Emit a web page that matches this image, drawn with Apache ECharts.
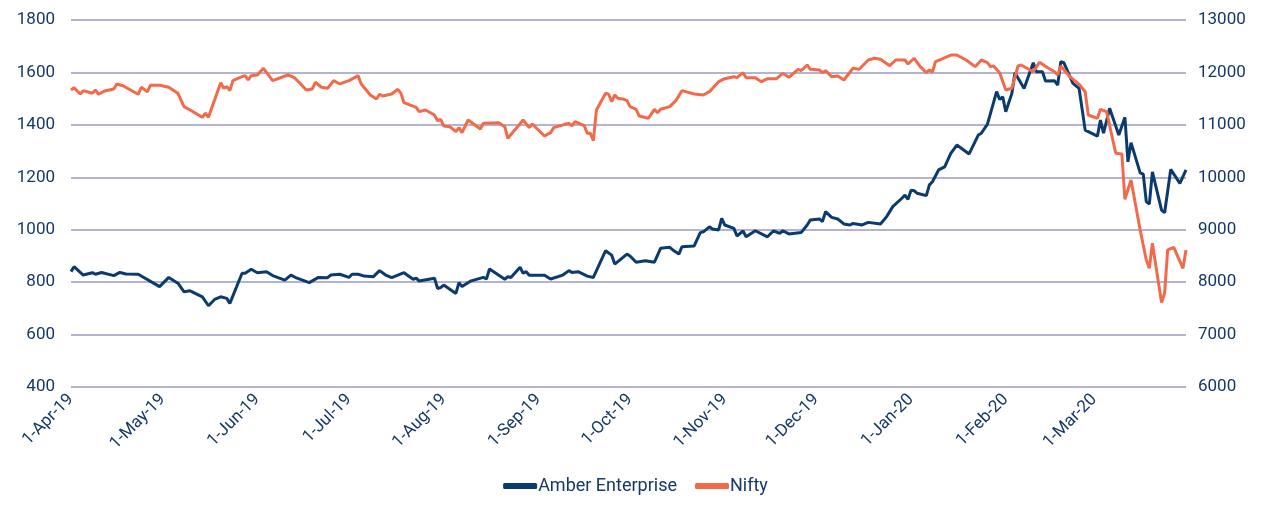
<!DOCTYPE html>
<html>
<head>
<meta charset="utf-8">
<script src="https://cdn.jsdelivr.net/npm/echarts@6/dist/echarts.min.js"></script>
<style>
  html, body { margin: 0; padding: 0; background: #fff; }
  #chart { width: 1271px; height: 505px; }
</style>
</head>
<body>
<div id="chart"></div>
<script>
// ===== Amber Enterprise vs Nifty, Apr-19 .. Mar-20 =====

const amberDates = [
  '2019-04-01','2019-04-02','2019-04-05','2019-04-08','2019-04-09','2019-04-11','2019-04-15','2019-04-17','2019-04-19','2019-04-23',
  '2019-04-30','2019-05-03','2019-05-06','2019-05-08','2019-05-10','2019-05-14','2019-05-16','2019-05-18','2019-05-20','2019-05-22',
  '2019-05-23','2019-05-27','2019-05-28','2019-05-30','2019-06-01','2019-06-04','2019-06-06','2019-06-10','2019-06-12','2019-06-14',
  '2019-06-18','2019-06-21','2019-06-24','2019-06-25','2019-06-28','2019-07-01','2019-07-02','2019-07-04','2019-07-06','2019-07-09',
  '2019-07-11','2019-07-13','2019-07-15','2019-07-19','2019-07-22','2019-07-23','2019-07-24','2019-07-29','2019-07-30','2019-07-31',
  '2019-08-01','2019-08-05','2019-08-06','2019-08-07','2019-08-10','2019-08-14','2019-08-15','2019-08-16','2019-08-21','2019-08-22',
  '2019-08-23','2019-08-26','2019-08-27','2019-08-28','2019-08-29','2019-09-03','2019-09-05','2019-09-09','2019-09-11','2019-09-12',
  '2019-09-14','2019-09-17','2019-09-19','2019-09-23','2019-09-25','2019-09-26','2019-09-30','2019-10-01','2019-10-03','2019-10-06',
  '2019-10-09','2019-10-11','2019-10-14','2019-10-15','2019-10-17','2019-10-18','2019-10-22','2019-10-24','2019-10-25','2019-10-27',
  '2019-10-28','2019-10-30','2019-10-31','2019-11-01','2019-11-04','2019-11-05','2019-11-07','2019-11-08','2019-11-11','2019-11-15',
  '2019-11-17','2019-11-19','2019-11-20','2019-11-22','2019-11-26','2019-11-28','2019-11-29','2019-12-02','2019-12-03','2019-12-04',
  '2019-12-06','2019-12-08','2019-12-10','2019-12-12','2019-12-13','2019-12-16','2019-12-18','2019-12-22','2019-12-24','2019-12-26',
  '2019-12-29','2019-12-30','2019-12-31','2020-01-01','2020-01-02','2020-01-03','2020-01-06','2020-01-07','2020-01-08','2020-01-10',
  '2020-01-12','2020-01-14','2020-01-16','2020-01-20','2020-01-23','2020-01-24','2020-01-26','2020-01-27','2020-01-29','2020-01-30',
  '2020-01-31','2020-02-01','2020-02-03','2020-02-04','2020-02-07','2020-02-10','2020-02-11','2020-02-13','2020-02-14','2020-02-17',
  '2020-02-18','2020-02-19','2020-02-20','2020-02-23','2020-02-25','2020-02-27','2020-03-02','2020-03-03','2020-03-04','2020-03-06',
  '2020-03-09','2020-03-11','2020-03-12','2020-03-13','2020-03-16','2020-03-17','2020-03-18','2020-03-19','2020-03-20','2020-03-23',
  '2020-03-24','2020-03-26','2020-03-29','2020-03-31'
];
const amberValues = [
  840, 859, 827, 836, 830, 837, 825, 837, 831, 830,
  783, 818, 796, 763, 767, 744, 710, 734, 744, 738,
  719, 834, 834, 849, 836, 840, 825, 808, 827, 815,
  798, 818, 817, 827, 830, 818, 830, 830, 823, 821,
  844, 827, 817, 836, 811, 815, 804, 815, 776, 779,
  789, 757, 798, 783, 805, 818, 812, 850, 811, 821,
  818, 857, 834, 840, 826, 826, 812, 827, 844, 837,
  840, 823, 818, 920, 903, 869, 907, 900, 876, 882,
  876, 929, 933, 923, 907, 935, 938, 989, 992, 1011,
  1003, 999, 1043, 1018, 1005, 976, 995, 973, 996, 973,
  996, 986, 996, 984, 989, 1018, 1037, 1041, 1031, 1069,
  1047, 1041, 1022, 1018, 1024, 1018, 1028, 1022, 1050, 1088,
  1120, 1132, 1116, 1151, 1149, 1139, 1130, 1171, 1183, 1228,
  1240, 1291, 1323, 1289, 1361, 1368, 1403, 1444, 1527, 1497,
  1507, 1450, 1520, 1599, 1539, 1637, 1603, 1603, 1567, 1568,
  1552, 1641, 1637, 1558, 1539, 1380, 1357, 1418, 1368, 1463,
  1361, 1429, 1259, 1332, 1217, 1212, 1107, 1098, 1221, 1075,
  1065, 1230, 1177, 1228
];

const niftyDates = [
  '2019-04-01','2019-04-02','2019-04-04','2019-04-05','2019-04-08','2019-04-09','2019-04-10','2019-04-12','2019-04-15','2019-04-16',
  '2019-04-18','2019-04-23','2019-04-24','2019-04-26','2019-04-27','2019-04-30','2019-05-03','2019-05-06','2019-05-08','2019-05-10',
  '2019-05-14','2019-05-15','2019-05-16','2019-05-20','2019-05-21','2019-05-22','2019-05-23','2019-05-24','2019-05-27','2019-05-28',
  '2019-05-29','2019-05-30','2019-06-01','2019-06-03','2019-06-06','2019-06-11','2019-06-13','2019-06-15','2019-06-17','2019-06-19',
  '2019-06-20','2019-06-22','2019-06-24','2019-06-26','2019-06-28','2019-07-01','2019-07-04','2019-07-05','2019-07-08','2019-07-10',
  '2019-07-11','2019-07-12','2019-07-15','2019-07-17','2019-07-18','2019-07-19','2019-07-23','2019-07-24','2019-07-26','2019-07-28',
  '2019-07-29','2019-07-30','2019-07-31','2019-08-01','2019-08-03','2019-08-05','2019-08-06','2019-08-07','2019-08-09','2019-08-13',
  '2019-08-14','2019-08-19','2019-08-21','2019-08-22','2019-08-27','2019-08-29','2019-08-30','2019-09-03','2019-09-05','2019-09-06',
  '2019-09-11','2019-09-12','2019-09-13','2019-09-16','2019-09-17','2019-09-18','2019-09-19','2019-09-20','2019-09-23','2019-09-24',
  '2019-09-25','2019-09-26','2019-09-27','2019-09-29','2019-09-30','2019-10-01','2019-10-03','2019-10-04','2019-10-07','2019-10-09',
  '2019-10-10','2019-10-11','2019-10-14','2019-10-16','2019-10-18','2019-10-22','2019-10-25','2019-10-27','2019-10-30','2019-11-01',
  '2019-11-04','2019-11-05','2019-11-07','2019-11-08','2019-11-11','2019-11-13','2019-11-15','2019-11-18','2019-11-20','2019-11-22',
  '2019-11-25','2019-11-26','2019-11-28','2019-11-29','2019-12-02','2019-12-03','2019-12-04','2019-12-06','2019-12-08','2019-12-10',
  '2019-12-13','2019-12-15','2019-12-18','2019-12-20','2019-12-22','2019-12-25','2019-12-27','2019-12-30','2019-12-31','2020-01-02',
  '2020-01-04','2020-01-06','2020-01-07','2020-01-08','2020-01-09','2020-01-11','2020-01-14','2020-01-16','2020-01-19','2020-01-22',
  '2020-01-24','2020-01-26','2020-01-27','2020-01-28','2020-01-30','2020-02-01','2020-02-03','2020-02-05','2020-02-06','2020-02-10',
  '2020-02-12','2020-02-15','2020-02-17','2020-02-18','2020-02-19','2020-02-22','2020-02-25','2020-02-27','2020-02-28','2020-03-02',
  '2020-03-03','2020-03-05','2020-03-08','2020-03-10','2020-03-11','2020-03-13','2020-03-16','2020-03-18','2020-03-19','2020-03-20',
  '2020-03-23','2020-03-24','2020-03-25','2020-03-27','2020-03-30','2020-03-31'
];
const niftyValues = [
  11665, 11709, 11589, 11652, 11602, 11665, 11583, 11646, 11684, 11780,
  11747, 11583, 11717, 11633, 11755, 11755, 11717, 11602, 11347, 11284,
  11144, 11221, 11144, 11804, 11698, 11728, 11652, 11843, 11919, 11938,
  11856, 11938, 11951, 12079, 11843, 11951, 11907, 11793, 11665, 11684,
  11812, 11717, 11698, 11843, 11780, 11843, 11938, 11780, 11570, 11493,
  11583, 11551, 11589, 11678, 11602, 11423, 11335, 11252, 11284, 11221,
  11188, 11080, 11106, 10979, 10966, 10870, 10947, 10851, 11093, 10921,
  11030, 11042, 10966, 10744, 11093, 10947, 11017, 10788, 10851, 10947,
  11030, 10979, 11061, 10985, 10839, 10839, 10698, 11284, 11602, 11583,
  11442, 11570, 11507, 11488, 11462, 11347, 11297, 11169, 11125, 11297,
  11233, 11297, 11347, 11462, 11652, 11589, 11570, 11633, 11824, 11881,
  11919, 11900, 11995, 11900, 11900, 11824, 11881, 11881, 11983, 11907,
  12060, 12034, 12142, 12060, 12047, 11995, 12034, 11919, 11932, 11856,
  12079, 12060, 12237, 12270, 12250, 12128, 12237, 12237, 12161, 12270,
  12110, 11995, 12047, 12008, 12205, 12256, 12332, 12332, 12237, 12110,
  12237, 12187, 12110, 12123, 11995, 11665, 11698, 12123, 12142, 12014,
  12193, 12079, 12014, 11951, 12123, 11919, 11773, 11633, 11188, 11125,
  11297, 11252, 10458, 10445, 9580, 9949, 8995, 8423, 8264, 8741,
  7609, 7788, 8614, 8665, 8264, 8614
];

// month starts shown on the date axis
const monthTicks = [
  '2019-04-01','2019-05-01','2019-06-01','2019-07-01','2019-08-01','2019-09-01',
  '2019-10-01','2019-11-01','2019-12-01','2020-01-01','2020-02-01','2020-03-01'
];
const monthNames = ['Jan','Feb','Mar','Apr','May','Jun','Jul','Aug','Sep','Oct','Nov','Dec'];

const COLORS = {
  amber: '#0b3a6f',
  nifty: '#f26a4a',
  grid: '#b2b4d2',
  text: '#15386a',
};

function toTime(s) {
  const [y, m, d] = s.split('-').map(Number);
  return new Date(y, m - 1, d).getTime();
}

function fmtDate(v) {
  const d = new Date(v);
  return d.getDate() + '-' + monthNames[d.getMonth()] + '-' + String(d.getFullYear()).slice(2);
}

const chart = echarts.init(document.getElementById('chart'));
const FONT = 'Roboto';

const option = {
  animation: false,
  textStyle: { fontFamily: FONT },
  grid: { left: 71, right: 85, top: 20, bottom: 118 },
  legend: {
    bottom: 5,
    left: 'center',
    itemGap: 18,
    itemWidth: 34,
    itemHeight: 6,
    icon: 'roundRect',
    textStyle: { fontFamily: FONT, fontSize: 18, color: COLORS.text, padding: [0, 0, 0, -4] },
    data: ['Amber Enterprise', 'Nifty'],
  },
  // date axis kept as a value axis of timestamps so month labels can be pinned
  xAxis: {
    type: 'value',
    min: toTime('2019-04-01'),
    max: toTime('2020-03-31'),
    axisLine: { show: false },
    axisTick: { show: false },
    splitLine: { show: false },
    axisLabel: {
      customValues: monthTicks.map(toTime),
      rotate: 45,
      margin: 10,
      fontSize: 17,
      fontFamily: FONT,
      color: COLORS.text,
      formatter: v => fmtDate(v),
    },
  },
  yAxis: [
    {
      type: 'value', min: 400, max: 1800, interval: 200,
      axisLine: { show: false },
      axisTick: { show: false },
      axisLabel: { fontSize: 17, fontFamily: FONT, color: COLORS.text, margin: 16, formatter: v => String(v) },
      splitLine: { lineStyle: { color: COLORS.grid, width: 2 } },
    },
    {
      type: 'value', min: 6000, max: 13000, interval: 1000,
      axisLine: { show: false },
      axisTick: { show: false },
      axisLabel: { fontSize: 17, fontFamily: FONT, color: COLORS.text, margin: 12, formatter: v => String(v) },
      splitLine: { show: false },
    },
  ],
  series: [
    {
      name: 'Amber Enterprise', type: 'line', yAxisIndex: 0,
      data: amberDates.map((d, i) => [toTime(d), amberValues[i]]),
      symbol: 'none',
      lineStyle: { color: COLORS.amber, width: 3 },
      itemStyle: { color: COLORS.amber },
    },
    {
      name: 'Nifty', type: 'line', yAxisIndex: 1,
      data: niftyDates.map((d, i) => [toTime(d), niftyValues[i]]),
      symbol: 'none',
      lineStyle: { color: COLORS.nifty, width: 3 },
      itemStyle: { color: COLORS.nifty },
    },
  ],
};

chart.setOption(option);
window.addEventListener('resize', () => chart.resize());
</script>
</body>
</html>
